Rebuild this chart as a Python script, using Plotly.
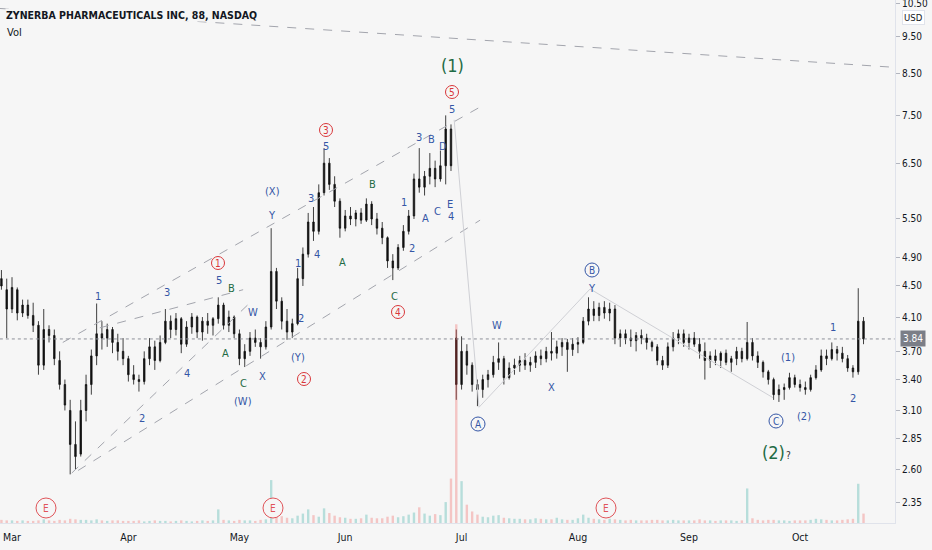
import numpy as np
import pandas as pd
import plotly.graph_objects as go

# trading days, Feb 27 - Oct 19 2020 (NYSE holidays removed)
holidays = ["2020-04-10", "2020-05-25", "2020-07-03", "2020-09-07"]
dates = [d for d in pd.bdate_range("2020-02-27", "2020-10-19") if d.strftime("%Y-%m-%d") not in holidays]

opens = [
    4.60, 4.45, 4.20, 4.45, 4.15, 4.25, 4.12, 4.00, 3.55, 3.95, 3.88, 3.60, 3.35, 3.10, 2.80, 2.72, 3.10, 3.35, 3.65, 3.90, 3.85, 3.95, 3.80, 3.70,
    3.62, 3.45, 3.40, 3.38, 3.62, 3.75, 3.60, 3.80, 4.05, 3.95, 4.08, 3.78, 3.98, 4.10, 3.92, 4.05, 4.00, 4.08, 4.25, 4.00, 4.10,
    3.90, 3.62, 3.70, 3.85, 3.80, 3.75, 3.98, 4.70, 4.30, 4.05, 3.92, 4.02, 4.60, 4.95, 5.45, 5.30, 5.95, 6.50, 6.10, 5.80,
    5.35, 5.55, 5.50, 5.60, 5.48, 5.75, 5.50, 5.35, 5.20, 4.85, 4.75, 5.05, 5.30, 5.55, 6.20, 6.05, 6.25, 6.40, 6.20, 6.45, 7.20, 3.85,
    3.35, 3.70, 3.55, 3.35, 3.30, 3.40, 3.45, 3.58, 3.62, 3.42, 3.52, 3.55, 3.60, 3.55, 3.58, 3.65, 3.62, 3.70, 3.68, 3.75, 3.80, 3.72,
    3.78, 3.80, 4.05, 4.20, 4.12, 4.22, 4.15, 4.20, 3.85, 3.90, 3.85, 3.82, 3.88, 3.85, 3.80, 3.75, 3.60, 3.55, 3.75, 3.85, 3.90,
    3.80, 3.85, 3.78, 3.70, 3.60, 3.65, 3.60, 3.68, 3.58, 3.62, 3.70, 3.62, 3.80, 3.65, 3.58, 3.48, 3.40, 3.25, 3.30, 3.32, 3.42,
    3.35, 3.32, 3.30, 3.42, 3.50, 3.65, 3.62, 3.72, 3.68, 3.62, 3.52, 3.48, 4.05,
]
highs = [
    4.72, 4.60, 4.62, 4.48, 4.32, 4.32, 4.28, 4.05, 4.20, 4.00, 3.95, 3.70, 3.40, 3.20, 3.00, 3.20, 3.45, 3.72, 4.27, 4.05, 4.02, 3.98, 3.90, 3.85,
    3.65, 3.55, 3.45, 3.70, 3.85, 3.82, 3.88, 4.20, 4.12, 4.15, 4.10, 4.05, 4.15, 4.12, 4.10, 4.15, 4.10, 4.35, 4.28, 4.18, 4.12,
    3.95, 3.78, 3.92, 3.95, 3.85, 4.05, 5.35, 4.75, 4.35, 4.20, 4.08, 4.75, 5.05, 5.60, 5.70, 6.10, 6.80, 6.60, 6.25, 5.85,
    5.65, 5.70, 5.65, 5.68, 5.85, 5.80, 5.60, 5.45, 5.22, 4.95, 5.10, 5.40, 5.65, 6.30, 6.80, 6.35, 6.70, 6.55, 6.75, 7.50, 7.30, 3.95,
    3.87, 3.78, 3.58, 3.40, 3.45, 3.50, 3.65, 3.80, 3.65, 3.58, 3.62, 3.65, 3.68, 3.64, 3.70, 3.72, 3.75, 3.92, 3.82, 3.85, 3.84, 3.85,
    3.86, 4.10, 4.35, 4.30, 4.28, 4.30, 4.28, 4.25, 3.95, 3.95, 3.95, 3.92, 3.95, 3.90, 3.82, 3.78, 3.65, 3.80, 3.92, 3.95, 3.95,
    3.90, 3.92, 3.85, 3.80, 3.70, 3.72, 3.70, 3.72, 3.65, 3.75, 3.74, 4.04, 3.85, 3.70, 3.60, 3.50, 3.42, 3.35, 3.36, 3.47, 3.45,
    3.40, 3.38, 3.45, 3.55, 3.72, 3.72, 3.80, 3.76, 3.75, 3.66, 3.55, 4.47, 4.10,
]
lows = [
    4.45, 3.85, 4.15, 4.06, 4.10, 4.08, 3.92, 3.45, 3.50, 3.80, 3.55, 3.30, 3.10, 2.56, 2.60, 2.70, 3.00, 3.25, 3.55, 3.72, 3.75, 3.68, 3.60, 3.55,
    3.38, 3.35, 3.28, 3.35, 3.55, 3.50, 3.58, 3.78, 3.85, 3.88, 3.68, 3.75, 3.90, 3.85, 3.82, 3.90, 3.88, 4.02, 3.95, 3.92, 3.85,
    3.55, 3.53, 3.65, 3.75, 3.62, 3.72, 3.95, 4.20, 3.95, 3.83, 3.85, 4.00, 4.50, 4.90, 5.15, 5.25, 5.90, 6.00, 5.70, 5.20,
    5.30, 5.40, 5.38, 5.42, 5.45, 5.40, 5.25, 5.10, 4.75, 4.58, 4.72, 5.00, 5.25, 5.50, 5.95, 5.90, 6.10, 6.05, 6.15, 6.10, 6.35, 3.20,
    3.30, 3.45, 3.28, 3.14, 3.22, 3.32, 3.42, 3.50, 3.35, 3.40, 3.45, 3.48, 3.50, 3.48, 3.52, 3.55, 3.58, 3.60, 3.62, 3.65, 3.48, 3.65,
    3.68, 3.78, 4.00, 4.05, 4.05, 4.08, 4.05, 3.78, 3.75, 3.78, 3.75, 3.70, 3.78, 3.72, 3.70, 3.55, 3.50, 3.52, 3.70, 3.78, 3.75,
    3.72, 3.75, 3.62, 3.40, 3.52, 3.55, 3.52, 3.55, 3.48, 3.55, 3.58, 3.60, 3.60, 3.52, 3.42, 3.35, 3.20, 3.18, 3.20, 3.30, 3.32,
    3.28, 3.25, 3.28, 3.40, 3.48, 3.55, 3.60, 3.60, 3.58, 3.48, 3.42, 3.45, 3.78,
]
closes = [
    4.50, 4.20, 4.48, 4.15, 4.25, 4.12, 4.00, 3.55, 3.95, 3.88, 3.62, 3.35, 3.15, 2.80, 2.70, 3.10, 3.35, 3.65, 3.90, 3.85, 3.95, 3.80, 3.70, 3.62,
    3.45, 3.40, 3.38, 3.62, 3.75, 3.60, 3.80, 4.05, 3.95, 4.08, 3.78, 3.98, 4.10, 3.92, 4.05, 4.00, 4.08, 4.25, 4.00, 4.10, 3.90,
    3.62, 3.70, 3.85, 3.80, 3.75, 3.98, 4.70, 4.30, 4.05, 3.92, 4.02, 4.60, 4.95, 5.45, 5.30, 5.95, 6.50, 6.10, 5.80, 5.35,
    5.55, 5.50, 5.60, 5.48, 5.75, 5.50, 5.35, 5.20, 4.85, 4.75, 5.05, 5.30, 5.55, 6.20, 6.05, 6.25, 6.40, 6.20, 6.45, 7.20, 6.45, 3.35,
    3.70, 3.55, 3.35, 3.30, 3.40, 3.45, 3.58, 3.62, 3.42, 3.52, 3.55, 3.60, 3.55, 3.58, 3.65, 3.62, 3.70, 3.68, 3.75, 3.80, 3.72, 3.78,
    3.80, 4.05, 4.20, 4.12, 4.22, 4.15, 4.20, 3.85, 3.90, 3.85, 3.82, 3.88, 3.85, 3.80, 3.75, 3.60, 3.55, 3.75, 3.85, 3.90, 3.80,
    3.85, 3.78, 3.70, 3.60, 3.65, 3.60, 3.68, 3.58, 3.62, 3.70, 3.62, 3.80, 3.65, 3.58, 3.48, 3.40, 3.25, 3.30, 3.32, 3.42, 3.35,
    3.32, 3.30, 3.42, 3.50, 3.65, 3.62, 3.72, 3.68, 3.62, 3.52, 3.48, 4.05, 3.84,
]
# volume, millions of shares
volumes = [
    0.6, 0.5, 0.5, 0.4, 0.5, 0.4, 0.4, 0.5, 0.7, 0.5, 0.4, 0.6, 0.5, 0.8, 0.7, 0.6, 0.6, 0.5, 0.7, 0.5, 0.4, 0.5, 0.5, 0.4,
    0.4, 0.4, 0.5, 0.3, 0.4, 0.5, 0.4, 0.4, 0.3, 0.4, 0.5, 0.4, 0.3, 0.4, 0.5, 0.4, 0.5, 2.6, 0.6, 0.5, 0.4,
    0.6, 0.5, 0.5, 0.4, 0.6, 0.7, 8.2, 2.2, 1.3, 1.0, 0.9, 1.4, 1.8, 2.6, 1.5, 1.2, 2.8, 1.9, 1.4, 1.1,
    1.0, 0.8, 0.8, 0.9, 1.6, 1.0, 0.9, 0.9, 1.2, 1.4, 1.1, 1.3, 1.6, 2.0, 3.0, 1.8, 1.4, 1.7, 1.5, 4.0, 8.5, 38.0,
    8.0, 3.5, 2.2, 1.6, 1.2, 1.1, 1.4, 1.5, 1.0, 0.9, 0.8, 0.8, 0.7, 0.7, 0.9, 0.8, 0.7, 0.7, 1.0, 0.7, 0.6, 0.6,
    0.9, 1.6, 1.0, 0.8, 0.7, 0.6, 0.8, 0.7, 0.6, 0.5, 0.6, 0.5, 0.5, 0.5, 0.6, 0.6, 0.5, 0.5, 0.6, 0.5, 0.5,
    0.5, 0.5, 0.7, 0.5, 0.5, 0.4, 0.5, 0.5, 0.5, 0.4, 0.5, 6.6, 0.9, 0.6, 0.5, 0.6, 0.6, 0.5, 0.5, 0.4, 0.5,
    0.5, 0.5, 0.6, 0.8, 0.7, 0.6, 0.5, 0.5, 0.6, 0.7, 0.8, 7.5, 1.8,
]
last_price = 3.84
price_ticks = [10.5, 9.5, 8.5, 7.5, 6.5, 5.5, 4.9, 4.5, 4.1, 3.7, 3.4, 3.1, 2.85, 2.6, 2.35]

# drawings: (bar index, price) anchor points
channel_lines = [
    ([11.6, 90.5], [3.80, 7.69]),
    ([18.6, 45.7], [3.97, 4.45]),
    ([13.3, 47.0], [2.57, 4.28]),
    ([14.5, 90.5], [2.59, 5.48]),
    ([-0.3, 168.9], [10.33, 8.66]),
]
wave_path = ([85.6, 90.3, 111.3, 145.9], [7.40, 3.13, 4.46, 3.22])

BG = "#f6f6f6"
BLUE = "#3556a6"
GREEN = "#1f6b45"
RED = "#d9373a"
FONT = "DejaVu Sans Condensed, DejaVu Sans, sans-serif"
PW, PH = 895, 523
Y_LO, Y_HI = 2.213, 10.595

xi = list(range(len(dates)))

fig = go.Figure()

vol_colors = ["rgba(38,166,154,0.3)" if c >= o else "rgba(239,83,80,0.3)" for o, c in zip(opens, closes)]
fig.add_trace(go.Bar(x=xi, y=volumes, marker_color=vol_colors, marker_line_width=0,
                     width=0.45, yaxis="y2", hoverinfo="skip"))

for xs, ys in channel_lines:
    fig.add_trace(go.Scatter(x=xs, y=ys, mode="lines", hoverinfo="skip",
                             line=dict(color="#a3a5ad", width=1, dash="dash")))
fig.add_trace(go.Scatter(x=wave_path[0], y=wave_path[1], mode="lines", hoverinfo="skip",
                         line=dict(color="#cfd0d5", width=1)))
fig.add_trace(go.Scatter(x=[-0.3, 168.9], y=[last_price, last_price], mode="lines", hoverinfo="skip",
                         line=dict(color="#8e9099", width=1, dash="dot")))

fig.add_trace(go.Candlestick(
    x=xi, open=opens, high=highs, low=lows, close=closes,
    increasing=dict(line=dict(color="#111111", width=0.8), fillcolor="#111111"),
    decreasing=dict(line=dict(color="#111111", width=0.8), fillcolor="#111111"),
    hoverinfo="skip",
))

# month ticks at the first trading day of each month
tickvals, ticktext = [], []
for i, d in enumerate(dates):
    if d.day <= 5 and (i == 0 or dates[i - 1].month != d.month):
        tickvals.append(i)
        ticktext.append(d.strftime("%b"))


def px(x):
    return x / PW


def py(y):
    return 1 - y / PH


ann = []
shapes = []


def label(text, x, y, color=BLUE, size=11):
    ann.append(dict(text=text, x=px(x), y=py(y), xref="paper", yref="paper", showarrow=False,
                    xanchor="center", yanchor="middle", font=dict(family=FONT, size=size, color=color)))


def circled(text, x, y, color, r=6.5, size=10):
    shapes.append(dict(type="circle", xref="paper", yref="paper", xsizemode="pixel", ysizemode="pixel",
                       xanchor=px(x), yanchor=py(y), x0=-r, x1=r, y0=-r, y1=r,
                       line=dict(color=color, width=1), fillcolor=BG, layer="above"))
    label(text, x, y, color, size)


blue_labels = [
    ("5", 452, 109), ("5", 326, 147), ("3", 419, 137), ("B", 431, 139), ("D", 443, 147),
    ("3", 311, 199), ("1", 404, 202), ("A", 425, 218), ("C", 437, 212), ("E", 450, 204),
    ("4", 451, 216), ("2", 412, 248), ("1", 298, 263), ("4", 317, 254), ("(X)", 272, 191),
    ("Y", 272, 215), ("5", 219, 280), ("1", 98, 296), ("3", 167, 292), ("W", 253, 312),
    ("2", 301, 318), ("4", 187, 373), ("X", 262, 376), ("(Y)", 298, 357), ("(W)", 243, 402),
    ("2", 142, 418), ("W", 497, 325), ("X", 551, 387), ("Y", 592, 288), ("(1)", 788, 357),
    ("(2)", 804, 416), ("1", 833, 327), ("2", 853, 398),
]
green_labels = [("B", 372, 184), ("B", 231, 288), ("A", 342, 262), ("C", 394, 296),
                ("A", 225, 353), ("C", 243, 383)]
for t, x, y in blue_labels:
    label(t, x, y, BLUE)
for t, x, y in green_labels:
    label(t, x, y, GREEN)
label("(1)", 452, 65, GREEN, 18)
label("(2)", 773, 452, GREEN, 18)
label("?", 788, 455, "#333333", 10)

for t, x, y in [("1", 218, 263), ("2", 304, 379), ("3", 326, 130), ("4", 398, 312), ("5", 452, 92)]:
    circled(t, x, y, RED)
for t, x, y in [("A", 478, 424), ("B", 592, 270), ("C", 776, 421)]:
    circled(t, x, y, BLUE, r=7)
for x in [46, 273, 606]:
    circled("E", x, 508, "#e0555a", r=10, size=10)

# legend text
ann.append(dict(text="<b>ZYNERBA PHARMACEUTICALS INC, 88, NASDAQ</b>", x=px(5), y=py(15), xref="paper",
                yref="paper", showarrow=False, xanchor="left", yanchor="middle", bgcolor=BG, borderpad=0,
                font=dict(family=FONT, size=10.5, color="#131722")))
ann.append(dict(text="Vol", x=px(5), y=py(32), xref="paper", yref="paper", showarrow=False,
                xanchor="left", yanchor="middle", font=dict(family=FONT, size=11, color="#131722")))
# last price tag and currency
lp = (np.log10(last_price) - np.log10(Y_LO)) / (np.log10(Y_HI) - np.log10(Y_LO))
ann.append(dict(text="3.84", x=px(913), y=lp, xref="paper", yref="paper", showarrow=False,
                xanchor="center", yanchor="middle", bgcolor="#7b7e87", borderpad=2,
                font=dict(family=FONT, size=10, color="#ffffff")))
ann.append(dict(text="USD", x=px(913), y=py(17), xref="paper", yref="paper", showarrow=False,
                xanchor="center", yanchor="middle", bgcolor="#ffffff", bordercolor="#e0e3eb",
                borderwidth=1, borderpad=1, font=dict(family=FONT, size=9.5, color="#131722")))

fig.update_layout(
    width=932, height=550,
    margin=dict(l=0, r=932 - PW, t=0, b=550 - PH, autoexpand=False),
    paper_bgcolor=BG, plot_bgcolor=BG,
    showlegend=False,
    boxgap=0.6,
    annotations=ann, shapes=shapes,
    xaxis=dict(range=[-0.27, 168.95], tickvals=tickvals, ticktext=ticktext, showgrid=False,
               zeroline=False, showline=True, linecolor="#e0e3eb", ticks="", automargin=False,
               ticklabelstandoff=4,
               tickfont=dict(family=FONT, size=10.5, color="#131722"),
               rangeslider=dict(visible=False), fixedrange=True),
    yaxis=dict(type="log", range=[np.log10(Y_LO), np.log10(Y_HI)], side="right",
               tickvals=price_ticks, ticktext=[f"{v:.2f}" for v in price_ticks],
               showgrid=False, zeroline=False, showline=True, linecolor="#e0e3eb",
               ticks="outside", ticklen=4, tickcolor="#b2b5be", automargin=False,
               ticklabeloverflow="allow",
               tickfont=dict(family=FONT, size=10, color="#131722")),
    yaxis2=dict(overlaying="y", range=[0, 100], visible=False),
)

fig.write_html("out.html", config={"displayModeBar": False},
               post_script="document.body.style.margin='0px';")
